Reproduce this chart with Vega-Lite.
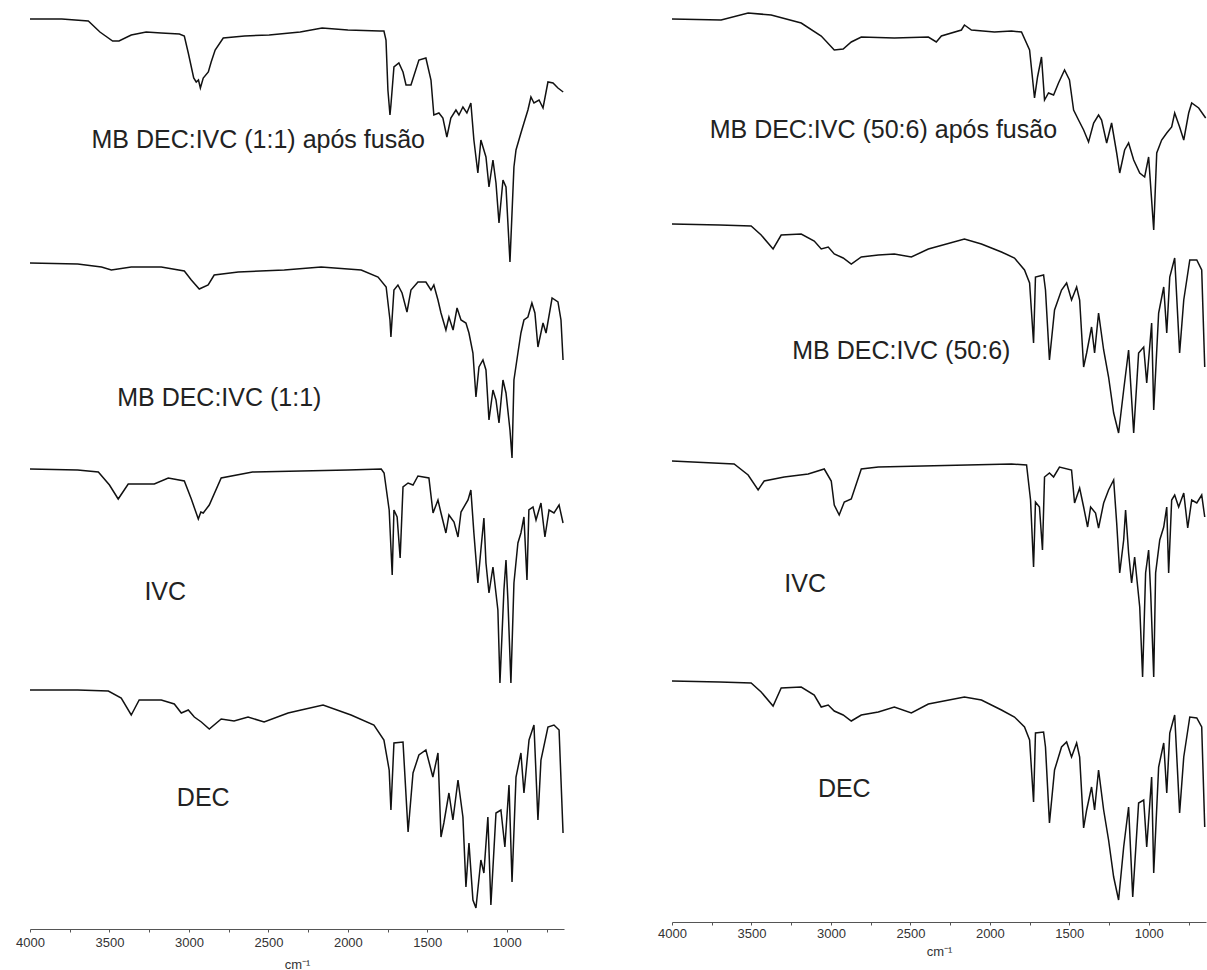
{
"$schema": "https://vega.github.io/schema/vega-lite/v6.json",
"padding": {"left": 15, "top": 0, "right": 0, "bottom": 0},
"background": "white",
"bounds": "flush",
"spacing": 108,
"config": {
 "view": {"stroke": null},
 "axisX": {"labelFont": "Liberation Sans", "labelFontSize": 13, "labelColor": "#333", "domainColor": "#555", "tickColor": "#555", "tickSize": 3, "titleFont": "Liberation Sans", "titleFontSize": 13, "titleFontWeight": "normal", "titleColor": "#333", "grid": false, "labelOverlap": false, "labelFlush": false}
},
"datasets": {
 "L": [
  {"s":"L1","wn":4000,"t":910},{"s":"L1","wn":3800,"t":910},{"s":"L1","wn":3633,"t":908},{"s":"L1","wn":3560,"t":897},{"s":"L1","wn":3480,"t":888},{"s":"L1","wn":3440,"t":888},{"s":"L1","wn":3363,"t":894},{"s":"L1","wn":3269,"t":897},{"s":"L1","wn":3174,"t":896},{"s":"L1","wn":3060,"t":895},{"s":"L1","wn":3029,"t":893},{"s":"L1","wn":3004,"t":876},{"s":"L1","wn":2970,"t":851},{"s":"L1","wn":2954,"t":847},{"s":"L1","wn":2940,"t":849},{"s":"L1","wn":2928,"t":841},{"s":"L1","wn":2910,"t":851},{"s":"L1","wn":2878,"t":857},{"s":"L1","wn":2860,"t":867},{"s":"L1","wn":2835,"t":879},{"s":"L1","wn":2784,"t":891},{"s":"L1","wn":2650,"t":893},{"s":"L1","wn":2495,"t":894},{"s":"L1","wn":2300,"t":897},{"s":"L1","wn":2162,"t":901},{"s":"L1","wn":2000,"t":899},{"s":"L1","wn":1800,"t":898},{"s":"L1","wn":1773,"t":898},{"s":"L1","wn":1760,"t":889},{"s":"L1","wn":1748,"t":839},{"s":"L1","wn":1735,"t":814},{"s":"L1","wn":1729,"t":824},{"s":"L1","wn":1710,"t":862},{"s":"L1","wn":1679,"t":866},{"s":"L1","wn":1653,"t":857},{"s":"L1","wn":1634,"t":844},{"s":"L1","wn":1603,"t":844},{"s":"L1","wn":1553,"t":869},{"s":"L1","wn":1509,"t":871},{"s":"L1","wn":1477,"t":849},{"s":"L1","wn":1459,"t":814},{"s":"L1","wn":1427,"t":816},{"s":"L1","wn":1402,"t":811},{"s":"L1","wn":1377,"t":792},{"s":"L1","wn":1352,"t":811},{"s":"L1","wn":1320,"t":819},{"s":"L1","wn":1301,"t":814},{"s":"L1","wn":1276,"t":822},{"s":"L1","wn":1251,"t":816},{"s":"L1","wn":1226,"t":826},{"s":"L1","wn":1207,"t":789},{"s":"L1","wn":1182,"t":756},{"s":"L1","wn":1163,"t":789},{"s":"L1","wn":1131,"t":772},{"s":"L1","wn":1112,"t":742},{"s":"L1","wn":1087,"t":769},{"s":"L1","wn":1068,"t":746},{"s":"L1","wn":1049,"t":706},{"s":"L1","wn":1024,"t":749},{"s":"L1","wn":1005,"t":742},{"s":"L1","wn":980,"t":667},{"s":"L1","wn":955,"t":762},{"s":"L1","wn":942,"t":779},{"s":"L1","wn":911,"t":796},{"s":"L1","wn":892,"t":806},{"s":"L1","wn":867,"t":819},{"s":"L1","wn":848,"t":832},{"s":"L1","wn":829,"t":826},{"s":"L1","wn":797,"t":829},{"s":"L1","wn":772,"t":821},{"s":"L1","wn":741,"t":847},{"s":"L1","wn":709,"t":846},{"s":"L1","wn":678,"t":841},{"s":"L1","wn":645,"t":837},
  {"s":"L2","wn":4000,"t":666},{"s":"L2","wn":3700,"t":665},{"s":"L2","wn":3550,"t":662},{"s":"L2","wn":3488,"t":659},{"s":"L2","wn":3363,"t":662},{"s":"L2","wn":3174,"t":662},{"s":"L2","wn":3029,"t":658},{"s":"L2","wn":2985,"t":649},{"s":"L2","wn":2935,"t":640},{"s":"L2","wn":2879,"t":644},{"s":"L2","wn":2841,"t":654},{"s":"L2","wn":2690,"t":657},{"s":"L2","wn":2400,"t":659},{"s":"L2","wn":2168,"t":662},{"s":"L2","wn":1916,"t":659},{"s":"L2","wn":1810,"t":652},{"s":"L2","wn":1759,"t":642},{"s":"L2","wn":1735,"t":609},{"s":"L2","wn":1729,"t":592},{"s":"L2","wn":1710,"t":639},{"s":"L2","wn":1685,"t":644},{"s":"L2","wn":1659,"t":636},{"s":"L2","wn":1628,"t":617},{"s":"L2","wn":1603,"t":639},{"s":"L2","wn":1559,"t":647},{"s":"L2","wn":1509,"t":647},{"s":"L2","wn":1477,"t":639},{"s":"L2","wn":1459,"t":644},{"s":"L2","wn":1433,"t":629},{"s":"L2","wn":1414,"t":616},{"s":"L2","wn":1383,"t":599},{"s":"L2","wn":1364,"t":612},{"s":"L2","wn":1338,"t":599},{"s":"L2","wn":1313,"t":621},{"s":"L2","wn":1288,"t":609},{"s":"L2","wn":1257,"t":606},{"s":"L2","wn":1238,"t":596},{"s":"L2","wn":1213,"t":576},{"s":"L2","wn":1194,"t":532},{"s":"L2","wn":1175,"t":562},{"s":"L2","wn":1150,"t":569},{"s":"L2","wn":1131,"t":559},{"s":"L2","wn":1112,"t":509},{"s":"L2","wn":1087,"t":539},{"s":"L2","wn":1068,"t":529},{"s":"L2","wn":1049,"t":506},{"s":"L2","wn":1024,"t":549},{"s":"L2","wn":1005,"t":536},{"s":"L2","wn":980,"t":499},{"s":"L2","wn":967,"t":471},{"s":"L2","wn":955,"t":549},{"s":"L2","wn":930,"t":576},{"s":"L2","wn":911,"t":596},{"s":"L2","wn":892,"t":609},{"s":"L2","wn":867,"t":612},{"s":"L2","wn":842,"t":626},{"s":"L2","wn":823,"t":616},{"s":"L2","wn":804,"t":582},{"s":"L2","wn":772,"t":606},{"s":"L2","wn":753,"t":596},{"s":"L2","wn":715,"t":631},{"s":"L2","wn":678,"t":627},{"s":"L2","wn":659,"t":609},{"s":"L2","wn":646,"t":569},
  {"s":"L3","wn":4000,"t":460},{"s":"L3","wn":3700,"t":459},{"s":"L3","wn":3570,"t":457},{"s":"L3","wn":3500,"t":444},{"s":"L3","wn":3445,"t":430},{"s":"L3","wn":3382,"t":445},{"s":"L3","wn":3218,"t":445},{"s":"L3","wn":3130,"t":451},{"s":"L3","wn":3029,"t":448},{"s":"L3","wn":2985,"t":430},{"s":"L3","wn":2941,"t":410},{"s":"L3","wn":2925,"t":417},{"s":"L3","wn":2910,"t":416},{"s":"L3","wn":2872,"t":424},{"s":"L3","wn":2797,"t":451},{"s":"L3","wn":2600,"t":457},{"s":"L3","wn":2000,"t":459},{"s":"L3","wn":1790,"t":460},{"s":"L3","wn":1772,"t":456},{"s":"L3","wn":1740,"t":419},{"s":"L3","wn":1721,"t":354},{"s":"L3","wn":1710,"t":419},{"s":"L3","wn":1690,"t":412},{"s":"L3","wn":1671,"t":371},{"s":"L3","wn":1653,"t":442},{"s":"L3","wn":1621,"t":446},{"s":"L3","wn":1590,"t":444},{"s":"L3","wn":1559,"t":453},{"s":"L3","wn":1490,"t":451},{"s":"L3","wn":1464,"t":416},{"s":"L3","wn":1433,"t":429},{"s":"L3","wn":1414,"t":416},{"s":"L3","wn":1383,"t":396},{"s":"L3","wn":1364,"t":414},{"s":"L3","wn":1332,"t":407},{"s":"L3","wn":1307,"t":392},{"s":"L3","wn":1288,"t":417},{"s":"L3","wn":1244,"t":429},{"s":"L3","wn":1226,"t":439},{"s":"L3","wn":1207,"t":396},{"s":"L3","wn":1182,"t":346},{"s":"L3","wn":1163,"t":379},{"s":"L3","wn":1144,"t":411},{"s":"L3","wn":1131,"t":366},{"s":"L3","wn":1112,"t":336},{"s":"L3","wn":1087,"t":362},{"s":"L3","wn":1056,"t":319},{"s":"L3","wn":1043,"t":246},{"s":"L3","wn":1018,"t":339},{"s":"L3","wn":1005,"t":369},{"s":"L3","wn":993,"t":329},{"s":"L3","wn":974,"t":246},{"s":"L3","wn":955,"t":346},{"s":"L3","wn":930,"t":386},{"s":"L3","wn":911,"t":396},{"s":"L3","wn":892,"t":412},{"s":"L3","wn":873,"t":349},{"s":"L3","wn":861,"t":419},{"s":"L3","wn":835,"t":422},{"s":"L3","wn":816,"t":409},{"s":"L3","wn":785,"t":426},{"s":"L3","wn":760,"t":392},{"s":"L3","wn":734,"t":419},{"s":"L3","wn":703,"t":416},{"s":"L3","wn":671,"t":424},{"s":"L3","wn":646,"t":406},
  {"s":"L4","wn":4000,"t":239},{"s":"L4","wn":3700,"t":239},{"s":"L4","wn":3507,"t":238},{"s":"L4","wn":3426,"t":231},{"s":"L4","wn":3363,"t":214},{"s":"L4","wn":3313,"t":229},{"s":"L4","wn":3174,"t":229},{"s":"L4","wn":3092,"t":225},{"s":"L4","wn":3048,"t":216},{"s":"L4","wn":3004,"t":219},{"s":"L4","wn":2966,"t":212},{"s":"L4","wn":2922,"t":207},{"s":"L4","wn":2872,"t":200},{"s":"L4","wn":2797,"t":210},{"s":"L4","wn":2716,"t":208},{"s":"L4","wn":2628,"t":212},{"s":"L4","wn":2527,"t":207},{"s":"L4","wn":2376,"t":216},{"s":"L4","wn":2294,"t":219},{"s":"L4","wn":2156,"t":224},{"s":"L4","wn":1980,"t":214},{"s":"L4","wn":1836,"t":204},{"s":"L4","wn":1773,"t":189},{"s":"L4","wn":1740,"t":159},{"s":"L4","wn":1729,"t":119},{"s":"L4","wn":1710,"t":186},{"s":"L4","wn":1653,"t":187},{"s":"L4","wn":1621,"t":97},{"s":"L4","wn":1590,"t":156},{"s":"L4","wn":1553,"t":174},{"s":"L4","wn":1509,"t":179},{"s":"L4","wn":1465,"t":152},{"s":"L4","wn":1433,"t":176},{"s":"L4","wn":1414,"t":92},{"s":"L4","wn":1396,"t":106},{"s":"L4","wn":1364,"t":136},{"s":"L4","wn":1339,"t":109},{"s":"L4","wn":1307,"t":149},{"s":"L4","wn":1276,"t":112},{"s":"L4","wn":1257,"t":42},{"s":"L4","wn":1238,"t":86},{"s":"L4","wn":1213,"t":29},{"s":"L4","wn":1194,"t":21},{"s":"L4","wn":1163,"t":69},{"s":"L4","wn":1144,"t":56},{"s":"L4","wn":1119,"t":112},{"s":"L4","wn":1100,"t":24},{"s":"L4","wn":1068,"t":116},{"s":"L4","wn":1037,"t":119},{"s":"L4","wn":1012,"t":82},{"s":"L4","wn":986,"t":144},{"s":"L4","wn":967,"t":47},{"s":"L4","wn":942,"t":152},{"s":"L4","wn":911,"t":176},{"s":"L4","wn":892,"t":136},{"s":"L4","wn":860,"t":189},{"s":"L4","wn":829,"t":204},{"s":"L4","wn":804,"t":109},{"s":"L4","wn":785,"t":169},{"s":"L4","wn":741,"t":202},{"s":"L4","wn":703,"t":204},{"s":"L4","wn":671,"t":199},{"s":"L4","wn":646,"t":96}
 ],
 "R": [
  {"s":"R1","wn":4000,"t":903},{"s":"R1","wn":3691,"t":902},{"s":"R1","wn":3521,"t":909},{"s":"R1","wn":3376,"t":907},{"s":"R1","wn":3187,"t":899},{"s":"R1","wn":3061,"t":886},{"s":"R1","wn":2979,"t":872},{"s":"R1","wn":2923,"t":873},{"s":"R1","wn":2872,"t":880},{"s":"R1","wn":2809,"t":885},{"s":"R1","wn":2601,"t":884},{"s":"R1","wn":2387,"t":885},{"s":"R1","wn":2337,"t":880},{"s":"R1","wn":2305,"t":886},{"s":"R1","wn":2179,"t":892},{"s":"R1","wn":2160,"t":897},{"s":"R1","wn":2116,"t":892},{"s":"R1","wn":1971,"t":890},{"s":"R1","wn":1864,"t":891},{"s":"R1","wn":1801,"t":890},{"s":"R1","wn":1750,"t":872},{"s":"R1","wn":1719,"t":824},{"s":"R1","wn":1700,"t":845},{"s":"R1","wn":1675,"t":865},{"s":"R1","wn":1656,"t":822},{"s":"R1","wn":1631,"t":829},{"s":"R1","wn":1599,"t":827},{"s":"R1","wn":1568,"t":839},{"s":"R1","wn":1530,"t":852},{"s":"R1","wn":1499,"t":842},{"s":"R1","wn":1473,"t":812},{"s":"R1","wn":1442,"t":802},{"s":"R1","wn":1410,"t":792},{"s":"R1","wn":1379,"t":780},{"s":"R1","wn":1347,"t":799},{"s":"R1","wn":1316,"t":807},{"s":"R1","wn":1297,"t":802},{"s":"R1","wn":1265,"t":779},{"s":"R1","wn":1234,"t":799},{"s":"R1","wn":1202,"t":769},{"s":"R1","wn":1183,"t":749},{"s":"R1","wn":1152,"t":772},{"s":"R1","wn":1127,"t":779},{"s":"R1","wn":1095,"t":762},{"s":"R1","wn":1057,"t":749},{"s":"R1","wn":1026,"t":745},{"s":"R1","wn":1001,"t":765},{"s":"R1","wn":969,"t":692},{"s":"R1","wn":950,"t":769},{"s":"R1","wn":919,"t":782},{"s":"R1","wn":887,"t":789},{"s":"R1","wn":856,"t":795},{"s":"R1","wn":837,"t":809},{"s":"R1","wn":806,"t":795},{"s":"R1","wn":780,"t":782},{"s":"R1","wn":749,"t":809},{"s":"R1","wn":730,"t":819},{"s":"R1","wn":686,"t":814},{"s":"R1","wn":642,"t":804},
  {"s":"R2","wn":4000,"t":698},{"s":"R2","wn":3700,"t":697},{"s":"R2","wn":3502,"t":696},{"s":"R2","wn":3439,"t":687},{"s":"R2","wn":3364,"t":673},{"s":"R2","wn":3313,"t":687},{"s":"R2","wn":3187,"t":688},{"s":"R2","wn":3105,"t":681},{"s":"R2","wn":3061,"t":673},{"s":"R2","wn":3017,"t":675},{"s":"R2","wn":2979,"t":668},{"s":"R2","wn":2923,"t":664},{"s":"R2","wn":2872,"t":658},{"s":"R2","wn":2809,"t":665},{"s":"R2","wn":2702,"t":667},{"s":"R2","wn":2601,"t":668},{"s":"R2","wn":2494,"t":665},{"s":"R2","wn":2387,"t":673},{"s":"R2","wn":2160,"t":683},{"s":"R2","wn":2053,"t":678},{"s":"R2","wn":1927,"t":670},{"s":"R2","wn":1845,"t":664},{"s":"R2","wn":1782,"t":652},{"s":"R2","wn":1750,"t":639},{"s":"R2","wn":1725,"t":579},{"s":"R2","wn":1713,"t":645},{"s":"R2","wn":1662,"t":647},{"s":"R2","wn":1650,"t":632},{"s":"R2","wn":1625,"t":562},{"s":"R2","wn":1593,"t":612},{"s":"R2","wn":1549,"t":632},{"s":"R2","wn":1517,"t":639},{"s":"R2","wn":1486,"t":622},{"s":"R2","wn":1454,"t":635},{"s":"R2","wn":1435,"t":622},{"s":"R2","wn":1410,"t":555},{"s":"R2","wn":1391,"t":569},{"s":"R2","wn":1360,"t":595},{"s":"R2","wn":1341,"t":569},{"s":"R2","wn":1316,"t":609},{"s":"R2","wn":1284,"t":572},{"s":"R2","wn":1253,"t":545},{"s":"R2","wn":1221,"t":509},{"s":"R2","wn":1190,"t":489},{"s":"R2","wn":1158,"t":532},{"s":"R2","wn":1127,"t":572},{"s":"R2","wn":1095,"t":489},{"s":"R2","wn":1064,"t":569},{"s":"R2","wn":1032,"t":575},{"s":"R2","wn":1013,"t":539},{"s":"R2","wn":982,"t":599},{"s":"R2","wn":969,"t":512},{"s":"R2","wn":938,"t":609},{"s":"R2","wn":906,"t":635},{"s":"R2","wn":887,"t":589},{"s":"R2","wn":868,"t":645},{"s":"R2","wn":837,"t":664},{"s":"R2","wn":806,"t":569},{"s":"R2","wn":780,"t":622},{"s":"R2","wn":742,"t":662},{"s":"R2","wn":698,"t":662},{"s":"R2","wn":667,"t":652},{"s":"R2","wn":648,"t":555},
  {"s":"R3","wn":4000,"t":461},{"s":"R3","wn":3609,"t":458},{"s":"R3","wn":3521,"t":447},{"s":"R3","wn":3458,"t":432},{"s":"R3","wn":3420,"t":441},{"s":"R3","wn":3294,"t":445},{"s":"R3","wn":3143,"t":448},{"s":"R3","wn":3042,"t":453},{"s":"R3","wn":2998,"t":441},{"s":"R3","wn":2979,"t":417},{"s":"R3","wn":2948,"t":407},{"s":"R3","wn":2916,"t":420},{"s":"R3","wn":2872,"t":423},{"s":"R3","wn":2809,"t":453},{"s":"R3","wn":2702,"t":455},{"s":"R3","wn":1864,"t":458},{"s":"R3","wn":1769,"t":457},{"s":"R3","wn":1744,"t":422},{"s":"R3","wn":1725,"t":355},{"s":"R3","wn":1713,"t":420},{"s":"R3","wn":1688,"t":415},{"s":"R3","wn":1669,"t":372},{"s":"R3","wn":1656,"t":445},{"s":"R3","wn":1625,"t":449},{"s":"R3","wn":1599,"t":445},{"s":"R3","wn":1562,"t":455},{"s":"R3","wn":1486,"t":452},{"s":"R3","wn":1467,"t":419},{"s":"R3","wn":1435,"t":434},{"s":"R3","wn":1410,"t":415},{"s":"R3","wn":1385,"t":395},{"s":"R3","wn":1366,"t":415},{"s":"R3","wn":1335,"t":409},{"s":"R3","wn":1316,"t":394},{"s":"R3","wn":1284,"t":419},{"s":"R3","wn":1253,"t":432},{"s":"R3","wn":1221,"t":442},{"s":"R3","wn":1202,"t":399},{"s":"R3","wn":1183,"t":349},{"s":"R3","wn":1158,"t":382},{"s":"R3","wn":1146,"t":412},{"s":"R3","wn":1127,"t":369},{"s":"R3","wn":1108,"t":339},{"s":"R3","wn":1089,"t":365},{"s":"R3","wn":1057,"t":315},{"s":"R3","wn":1039,"t":245},{"s":"R3","wn":1020,"t":349},{"s":"R3","wn":1001,"t":372},{"s":"R3","wn":988,"t":329},{"s":"R3","wn":969,"t":245},{"s":"R3","wn":957,"t":349},{"s":"R3","wn":931,"t":382},{"s":"R3","wn":906,"t":395},{"s":"R3","wn":887,"t":415},{"s":"R3","wn":875,"t":349},{"s":"R3","wn":856,"t":422},{"s":"R3","wn":837,"t":427},{"s":"R3","wn":812,"t":415},{"s":"R3","wn":780,"t":429},{"s":"R3","wn":755,"t":394},{"s":"R3","wn":730,"t":422},{"s":"R3","wn":698,"t":419},{"s":"R3","wn":667,"t":427},{"s":"R3","wn":648,"t":405},
  {"s":"R4","wn":4000,"t":241},{"s":"R4","wn":3700,"t":240},{"s":"R4","wn":3502,"t":239},{"s":"R4","wn":3439,"t":230},{"s":"R4","wn":3364,"t":216},{"s":"R4","wn":3313,"t":234},{"s":"R4","wn":3187,"t":235},{"s":"R4","wn":3105,"t":227},{"s":"R4","wn":3061,"t":215},{"s":"R4","wn":3017,"t":217},{"s":"R4","wn":2979,"t":211},{"s":"R4","wn":2923,"t":207},{"s":"R4","wn":2872,"t":201},{"s":"R4","wn":2809,"t":207},{"s":"R4","wn":2702,"t":210},{"s":"R4","wn":2601,"t":215},{"s":"R4","wn":2494,"t":209},{"s":"R4","wn":2387,"t":218},{"s":"R4","wn":2160,"t":225},{"s":"R4","wn":2053,"t":222},{"s":"R4","wn":1927,"t":212},{"s":"R4","wn":1845,"t":205},{"s":"R4","wn":1782,"t":195},{"s":"R4","wn":1750,"t":182},{"s":"R4","wn":1725,"t":120},{"s":"R4","wn":1713,"t":189},{"s":"R4","wn":1662,"t":190},{"s":"R4","wn":1650,"t":175},{"s":"R4","wn":1625,"t":99},{"s":"R4","wn":1593,"t":152},{"s":"R4","wn":1549,"t":175},{"s":"R4","wn":1517,"t":180},{"s":"R4","wn":1486,"t":165},{"s":"R4","wn":1454,"t":179},{"s":"R4","wn":1435,"t":165},{"s":"R4","wn":1410,"t":94},{"s":"R4","wn":1391,"t":112},{"s":"R4","wn":1360,"t":135},{"s":"R4","wn":1341,"t":112},{"s":"R4","wn":1316,"t":152},{"s":"R4","wn":1284,"t":112},{"s":"R4","wn":1253,"t":82},{"s":"R4","wn":1221,"t":45},{"s":"R4","wn":1190,"t":22},{"s":"R4","wn":1158,"t":75},{"s":"R4","wn":1127,"t":115},{"s":"R4","wn":1101,"t":25},{"s":"R4","wn":1064,"t":119},{"s":"R4","wn":1032,"t":122},{"s":"R4","wn":1013,"t":75},{"s":"R4","wn":982,"t":145},{"s":"R4","wn":969,"t":49},{"s":"R4","wn":938,"t":155},{"s":"R4","wn":906,"t":179},{"s":"R4","wn":887,"t":129},{"s":"R4","wn":868,"t":189},{"s":"R4","wn":837,"t":207},{"s":"R4","wn":806,"t":109},{"s":"R4","wn":780,"t":165},{"s":"R4","wn":742,"t":205},{"s":"R4","wn":698,"t":204},{"s":"R4","wn":667,"t":195},{"s":"R4","wn":648,"t":95}
 ],
 "LL": [
  {"label":"MB DEC:IVC (1:1) após fusão","wn":2564,"t":789},
  {"label":"MB DEC:IVC (1:1)","wn":2809,"t":531},
  {"label":"IVC","wn":3149,"t":337},
  {"label":"DEC","wn":2910,"t":131}
 ],
 "RL": [
  {"label":"MB DEC:IVC (50:6) após fusão","wn":2670,"t":792},
  {"label":"MB DEC:IVC (50:6)","wn":2557,"t":571},
  {"label":"IVC","wn":3162,"t":338},
  {"label":"DEC","wn":2916,"t":133}
 ]
},
"hconcat": [
 {
  "width": 534, "height": 929,
  "layer": [
   {"data": {"name": "L"},
    "mark": {"type": "line", "color": "#111", "strokeWidth": 1.5},
    "encoding": {
     "x": {"field": "wn", "type": "quantitative", "scale": {"domain": [640, 4000], "reverse": true, "nice": false, "zero": false},
       "axis": {"values": [4000,3750,3500,3250,3000,2750,2500,2250,2000,1750,1500,1250,1000,750], "labelExpr": "datum.value % 500 === 0 ? datum.label : ''", "format": "d", "title": "cm⁻¹", "labelPadding": 4, "titlePadding": 9}},
     "y": {"field": "t", "type": "quantitative", "scale": {"domain": [0, 929], "nice": false, "zero": false}, "axis": null},
     "detail": {"field": "s"}
    }},
   {"data": {"name": "LL"},
    "mark": {"type": "text", "font": "Liberation Sans", "fontSize": 25, "color": "#222", "align": "center", "baseline": "middle"},
    "encoding": {
     "x": {"field": "wn", "type": "quantitative"},
     "y": {"field": "t", "type": "quantitative"},
     "text": {"field": "label"}
    }}
  ]
 },
 {
  "width": 534, "height": 922,
  "layer": [
   {"data": {"name": "R"},
    "mark": {"type": "line", "color": "#111", "strokeWidth": 1.5},
    "encoding": {
     "x": {"field": "wn", "type": "quantitative", "scale": {"domain": [640, 4000], "reverse": true, "nice": false, "zero": false},
       "axis": {"values": [4000,3750,3500,3250,3000,2750,2500,2250,2000,1750,1500,1250,1000,750], "labelExpr": "datum.value % 500 === 0 ? datum.label : ''", "format": "d", "title": "cm⁻¹", "labelPadding": 2, "titlePadding": 5}},
     "y": {"field": "t", "type": "quantitative", "scale": {"domain": [0, 922], "nice": false, "zero": false}, "axis": null},
     "detail": {"field": "s"}
    }},
   {"data": {"name": "RL"},
    "mark": {"type": "text", "font": "Liberation Sans", "fontSize": 25, "color": "#222", "align": "center", "baseline": "middle"},
    "encoding": {
     "x": {"field": "wn", "type": "quantitative"},
     "y": {"field": "t", "type": "quantitative"},
     "text": {"field": "label"}
    }}
  ]
 }
]
}
